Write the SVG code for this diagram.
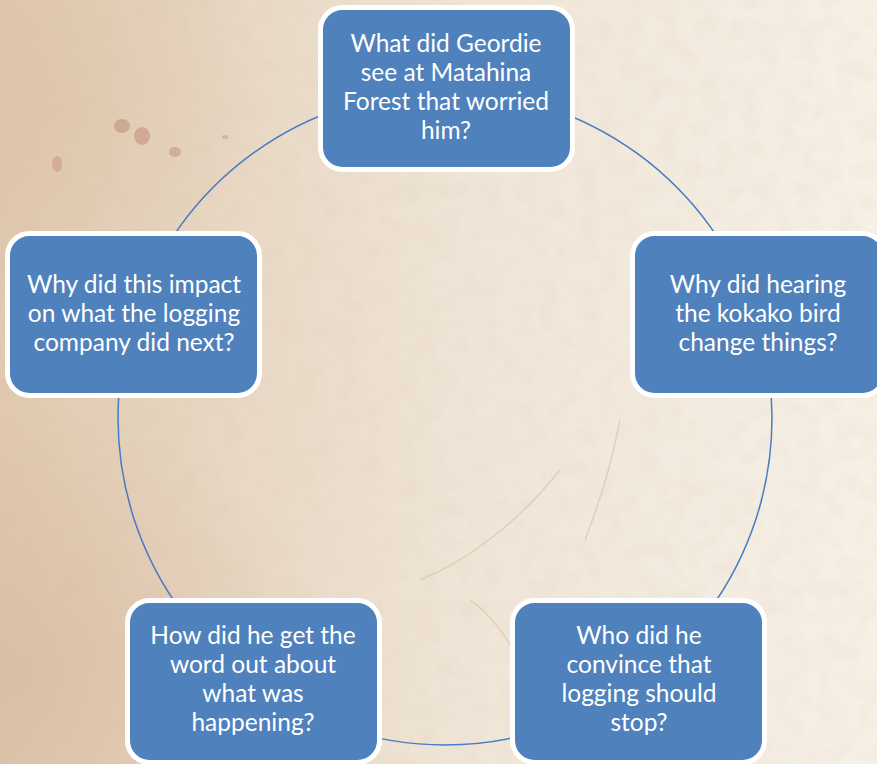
<svg xmlns="http://www.w3.org/2000/svg" width="877" height="764" viewBox="0 0 877 764">
  <defs>
    <linearGradient id="bgLin" x1="0" y1="0" x2="1" y2="0">
      <stop offset="0" stop-color="#E0C9AF"/>
      <stop offset="0.25" stop-color="#E8D7C3"/>
      <stop offset="0.55" stop-color="#F0E6D8"/>
      <stop offset="1" stop-color="#F6F0E6"/>
    </linearGradient>
    <radialGradient id="bgDarkBL" cx="0.03" cy="0.88" r="0.35">
      <stop offset="0" stop-color="#D2B295" stop-opacity="0.45"/>
      <stop offset="1" stop-color="#D2B295" stop-opacity="0"/>
    </radialGradient>
    <radialGradient id="bgDarkTL" cx="0.03" cy="0.12" r="0.3">
      <stop offset="0" stop-color="#D8BCA0" stop-opacity="0.35"/>
      <stop offset="1" stop-color="#D8BCA0" stop-opacity="0"/>
    </radialGradient>
    <filter id="grain" x="0" y="0" width="100%" height="100%">
      <feTurbulence type="fractalNoise" baseFrequency="0.05" numOctaves="3" seed="11" result="n"/>
      <feColorMatrix type="matrix" values="0 0 0 0 0.66  0 0 0 0 0.52  0 0 0 0 0.38  0 0 0 -1.4 0.85"/>
    </filter>
    <style>
      .node rect { fill: #4F81BD; stroke: #FFFFFF; stroke-width: 5; }
      .node text { fill: #FFFFFF; font-family: Lato, "Open Sans", "Liberation Sans", sans-serif; font-size: 24.5px; text-anchor: middle; }
      .conn path { fill: none; stroke: #467CC2; stroke-width: 1.5; }
      .spot { fill: #BE8670; }
    </style>
  </defs>

  <g id="background">
    <rect x="0" y="0" width="877" height="764" fill="url(#bgLin)"/>
    <rect x="0" y="0" width="877" height="764" fill="url(#bgDarkBL)"/>
    <rect x="0" y="0" width="877" height="764" fill="url(#bgDarkTL)"/>
    <rect x="0" y="0" width="877" height="764" filter="url(#grain)" opacity="0.18"/>
    <ellipse class="spot" cx="122" cy="126" rx="8" ry="7" opacity="0.5"/>
    <ellipse class="spot" cx="142" cy="136" rx="8" ry="9" opacity="0.5"/>
    <ellipse class="spot" cx="175" cy="152" rx="6" ry="5" opacity="0.45"/>
    <ellipse class="spot" cx="57" cy="164" rx="5" ry="8" opacity="0.4"/>
    <ellipse class="spot" cx="225" cy="137" rx="3" ry="2" opacity="0.4"/>
    <path d="M420 580 C 470 560, 520 520, 560 470 M 470 600 C 500 620, 520 660, 540 700 M 620 420 C 610 470, 600 500, 585 540" fill="none" stroke="#D2BA9C" stroke-width="1.5" opacity="0.5"/>
  </g>

  <g id="connectors" class="conn">
    <path d="M445 91 A327 327 0 0 1 756 317"/>
    <path d="M756 317 A327 327 0 0 1 637.2 682.5"/>
    <path d="M637.2 682.5 A327 327 0 0 1 252.8 682.5"/>
    <path d="M252.8 682.5 A327 327 0 0 1 134 317"/>
    <path d="M134 317 A327 327 0 0 1 445 91"/>
  </g>

  <g id="node-top" class="node">
    <rect x="320.5" y="7.5" width="252" height="162" rx="22"/>
    <text x="446" y="52">What did Geordie</text>
    <text x="446" y="81">see at Matahina</text>
    <text x="446" y="110">Forest that worried</text>
    <text x="446" y="139">him?</text>
  </g>

  <g id="node-right" class="node">
    <rect x="632.5" y="233.5" width="252" height="162" rx="22"/>
    <text x="758" y="293">Why did hearing</text>
    <text x="758" y="322">the kokako bird</text>
    <text x="758" y="351">change things?</text>
  </g>

  <g id="node-bottom-right" class="node">
    <rect x="512.5" y="600.5" width="252" height="162" rx="22"/>
    <text x="639" y="644">Who did he</text>
    <text x="639" y="673">convince that</text>
    <text x="639" y="702">logging should</text>
    <text x="639" y="731">stop?</text>
  </g>

  <g id="node-bottom-left" class="node">
    <rect x="127.5" y="600.5" width="252" height="162" rx="22"/>
    <text x="253" y="644">How did he get the</text>
    <text x="253" y="673">word out about</text>
    <text x="253" y="702">what was</text>
    <text x="253" y="731">happening?</text>
  </g>

  <g id="node-left" class="node">
    <rect x="7.5" y="233.5" width="252" height="162" rx="22"/>
    <text x="134" y="293">Why did this impact</text>
    <text x="134" y="322">on what the logging</text>
    <text x="134" y="351">company did next?</text>
  </g>
</svg>
